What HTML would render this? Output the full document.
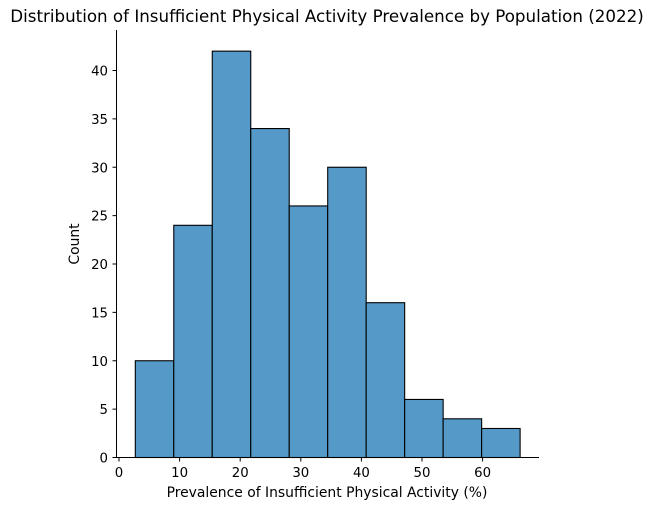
<!DOCTYPE html>
<html><head><meta charset="utf-8"><style>
body{margin:0;background:#fff;}
svg{display:block;font-family:"DejaVu Sans","Liberation Sans",sans-serif;}
</style></head><body>
<svg id="chart" width="654" height="510" xmlns="http://www.w3.org/2000/svg">
<text x="327" y="22" text-anchor="middle" font-size="16.7" fill="#000">Distribution of Insufficient Physical Activity Prevalence by Population (2022)</text>
<g id="bars"></g>
<g id="axes"></g>
<text x="327" y="497" text-anchor="middle" font-size="13.9" fill="#000">Prevalence of Insufficient Physical Activity (%)</text>
<text transform="translate(79,244) rotate(-90)" text-anchor="middle" font-size="13.9" fill="#000">Count</text>
</svg>
<script>
const binStart = 2.69;
const binWidth = 6.35;
const counts = [10, 24, 42, 34, 26, 30, 16, 6, 4, 3];
const xTicks = [0, 10, 20, 30, 40, 50, 60];
const yTicks = [0, 5, 10, 15, 20, 25, 30, 35, 40];
const NS = "http://www.w3.org/2000/svg";
const x = v => 119 + v * 6.06;
const y = v => 457.5 - v * 9.675;
const bars = document.getElementById('bars');
counts.forEach((c, i) => {
  const r = document.createElementNS(NS, 'rect');
  const x0 = x(binStart + i * binWidth), x1 = x(binStart + (i + 1) * binWidth);
  r.setAttribute('x', x0); r.setAttribute('y', y(c));
  r.setAttribute('width', x1 - x0); r.setAttribute('height', y(0) - y(c));
  r.setAttribute('fill', '#5599c8'); r.setAttribute('stroke', '#000'); r.setAttribute('stroke-width', '1.1');
  
  
  bars.appendChild(r);
});
const axes = document.getElementById('axes');
function line(x1, y1, x2, y2, name) {
  const l = document.createElementNS(NS, 'line');
  l.setAttribute('x1', x1); l.setAttribute('y1', y1); l.setAttribute('x2', x2); l.setAttribute('y2', y2);
  l.setAttribute('stroke', '#000'); l.setAttribute('stroke-width', '1');
  
  
  axes.appendChild(l);
}
function text(tx, ty, s, anchor, name) {
  const t = document.createElementNS(NS, 'text');
  t.setAttribute('x', tx); t.setAttribute('y', ty); t.setAttribute('text-anchor', anchor);
  t.setAttribute('font-size', '13.3'); t.textContent = s;
  
  
  axes.appendChild(t);
}
line(116.5, 30, 116.5, 457.5, 'y-axis-line');
line(116.5, 457.5, 539, 457.5, 'x-axis-line');
xTicks.forEach(v => { line(x(v), 457.5, x(v), 461.5, 'x-tick'); text(x(v), 477, String(v), 'middle', 'x-tick-label'); });
yTicks.forEach(v => { line(112.5, y(v), 116.5, y(v), 'y-tick'); text(108, y(v) + 5, String(v), 'end', 'y-tick-label'); });
</script>
</body></html>
